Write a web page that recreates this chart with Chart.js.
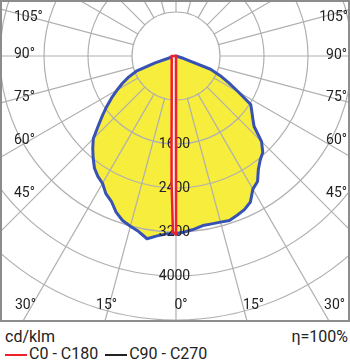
<!DOCTYPE html>
<html>
<head>
<meta charset="utf-8">
<script src="https://cdn.jsdelivr.net/npm/chart.js@4.4.1/dist/chart.umd.min.js"></script>
<style>
  html, body { margin: 0; padding: 0; background: #fff; }
  body { width: 350px; height: 361px; position: relative; overflow: hidden;
         font-family: Roboto, "Noto Sans", sans-serif; color: #222; }
  #frame { position: absolute; left: 0; top: 0; width: 350px; height: 322px;
           box-sizing: border-box; border: 2px solid #8c8c8c; overflow: hidden; }
  #polar { position: absolute; left: -90px; top: -210px; }
  .foot { position: absolute; font-size: 16px; line-height: 16px; white-space: nowrap; }
  .sw { display: inline-block; width: 22px; height: 1.5px; vertical-align: middle; margin-right: 2px; }
</style>
</head>
<body>
<div id="frame"><canvas id="polar" width="528" height="528"></canvas></div>
<div class="foot" style="left:5px; top:329px;">cd/klm</div>
<div class="foot" style="right:2px; top:329px;">η=100%</div>
<div class="foot" style="left:5px; top:346px;">
  <span class="sw" style="background:#f0202a"></span>C0 - C180
  <span class="sw" style="background:#222; margin-left:3px"></span>C90 - C270
</div>

<script>
/* Polar intensity diagram, cd/klm */

// C90 - C270 plane, every 3 deg from nadir (left half = C270, right half = C90)
const c90Angles = [0, 3, 6, 9, 12, 15, 18, 21, 24, 27, 30, 33, 36, 39, 42, 45, 48, 51, 54, 57, 60, 63, 66, 69, 72, 75, 78];
const c270Values = [3233, 3238, 3289, 3364, 3264, 3204, 3145, 3040, 2891, 2809, 2673, 2609, 2522, 2393, 2262, 2127, 1904, 1722, 1553, 1393, 1236, 1093, 944, 773, 400, 90, 0];
const c90Values = [3233, 3200, 3164, 3122, 3120, 3127, 3145, 3102, 3058, 2980, 2795, 2722, 2547, 2433, 2358, 2200, 1909, 1795, 1702, 1620, 1310, 1078, 880, 673, 150, 0, 0];

// C0 - C180 plane (very narrow beam)
const c0Angles = [0, 1, 2, 3, 5, 10, 20, 40, 90, 180];
const c180Values = [3245, 3200, 2300, 1550, 900, 450, 230, 120, 80, 0];
const c0Values = [3245, 0, 0, 0, 0, 0, 0, 0, 0, 0];

// radial grid
const ringValues = [800, 1600, 2400, 3200, 4000, 4800];
const ringLabels = [1600, 2400, 3200, 4000];
const spokeAngles = [0, 15, 30, 45, 60, 75, 90, 105, 120, 135, 150, 165,
                     180, 195, 210, 225, 240, 255, 270, 285, 300, 315, 330, 345];

// one radar label per degree, index 0 = nadir, going clockwise through the left half
const degrees = Array.from({ length: 360 }, (_, i) => i);

function toRadar(angles, left, right) {
  const out = new Array(360).fill(null);
  angles.forEach((a, i) => {
    out[a] = left[i];
    if (a > 0 && a < 180) out[360 - a] = right[i];
  });
  return out;
}

const c90Curve = toRadar(c90Angles, c270Values, c90Values);
const c0Curve = toRadar(c0Angles, c180Values, c0Values);

const GRID = "#b0b0b0";
const INK = "#222";

// angle captions, offsets from the pole in px
const ANGLE_TEXT = [
  ["105°", -162, -39, "left"], ["90°", -162, -1.5, "left"], ["75°", -162, 41, "left"],
  ["60°", -162, 84.5, "left"], ["45°", -162, 137, "left"], ["30°", -161, 249, "left"],
  ["15°", -69.5, 249, "center"], ["0°", 5, 249, "center"], ["15°", 77.5, 249, "center"],
  ["30°", 169, 249, "right"], ["45°", 171, 137, "right"], ["60°", 171, 84.5, "right"],
  ["75°", 171, 41, "right"], ["90°", 171, -1, "right"], ["105°", 172, -39, "right"]
];

const polarGrid = {
  id: "polarGrid",
  afterDatasetDraw(chart, args) {
    const r = chart.scales.r;
    const ctx = chart.ctx;
    const cx = r.xCenter, cy = r.yCenter;
    ctx.save();
    if (args.index === 0) {
      // rings and spokes go over the yellow fill
      ctx.strokeStyle = GRID;
      ctx.lineWidth = 1.2;
      ringValues.forEach(v => {
        ctx.beginPath();
        ctx.arc(cx, cy, r.getDistanceFromCenterForValue(v), 0, Math.PI * 2);
        ctx.stroke();
      });
      spokeAngles.forEach(a => {
        const p0 = r.getPointPositionForValue(a, ringValues[0]);
        const p1 = r.getPointPosition(a, 420);
        ctx.beginPath();
        ctx.moveTo(p0.x, p0.y);
        ctx.lineTo(p1.x, p1.y);
        ctx.stroke();
      });
      ctx.fillStyle = INK;
      ctx.font = "14px Roboto";
      ctx.textBaseline = "middle";
      ANGLE_TEXT.forEach(([t, dx, dy, align]) => {
        ctx.textAlign = align;
        ctx.fillText(t, cx + dx, cy + dy);
      });
    }
    if (args.index === 1) {
      ctx.fillStyle = INK;
      ctx.font = "14px Roboto";
      ctx.textAlign = "center";
      ctx.textBaseline = "middle";
      ringLabels.forEach(v => {
        ctx.fillText(String(v), cx - 1.5, cy + r.getDistanceFromCenterForValue(v));
      });
    }
    ctx.restore();
  }
};

function draw() {
  new Chart(document.getElementById("polar"), {
    type: "radar",
    data: {
      labels: degrees,
      datasets: [
        { data: c90Curve, order: 3, fill: true, backgroundColor: "#f7ed3c",
          borderWidth: 0, spanGaps: true },
        { data: c90Curve, order: 2, fill: false, borderColor: "#3852b4",
          borderWidth: 3, spanGaps: true, borderJoinStyle: "round" },
        { data: c0Curve, order: 1, fill: true, backgroundColor: "#f6f6f6",
          borderColor: "#f0202a", borderWidth: 2.5, spanGaps: true, borderJoinStyle: "round" }
      ]
    },
    options: {
      responsive: false,
      animation: false,
      events: [],
      layout: { padding: 0 },
      elements: { point: { radius: 0 }, line: { tension: 0 } },
      plugins: { legend: { display: false }, tooltip: { enabled: false } },
      scales: {
        r: {
          min: 0, max: 4800, startAngle: 180,
          ticks: { display: false, stepSize: 800 },
          grid: { display: false },
          angleLines: { display: false },
          pointLabels: { display: false }
        }
      }
    },
    plugins: [polarGrid]
  });
}

document.fonts.load("14px Roboto").then(draw, draw);
</script>
</body>
</html>
